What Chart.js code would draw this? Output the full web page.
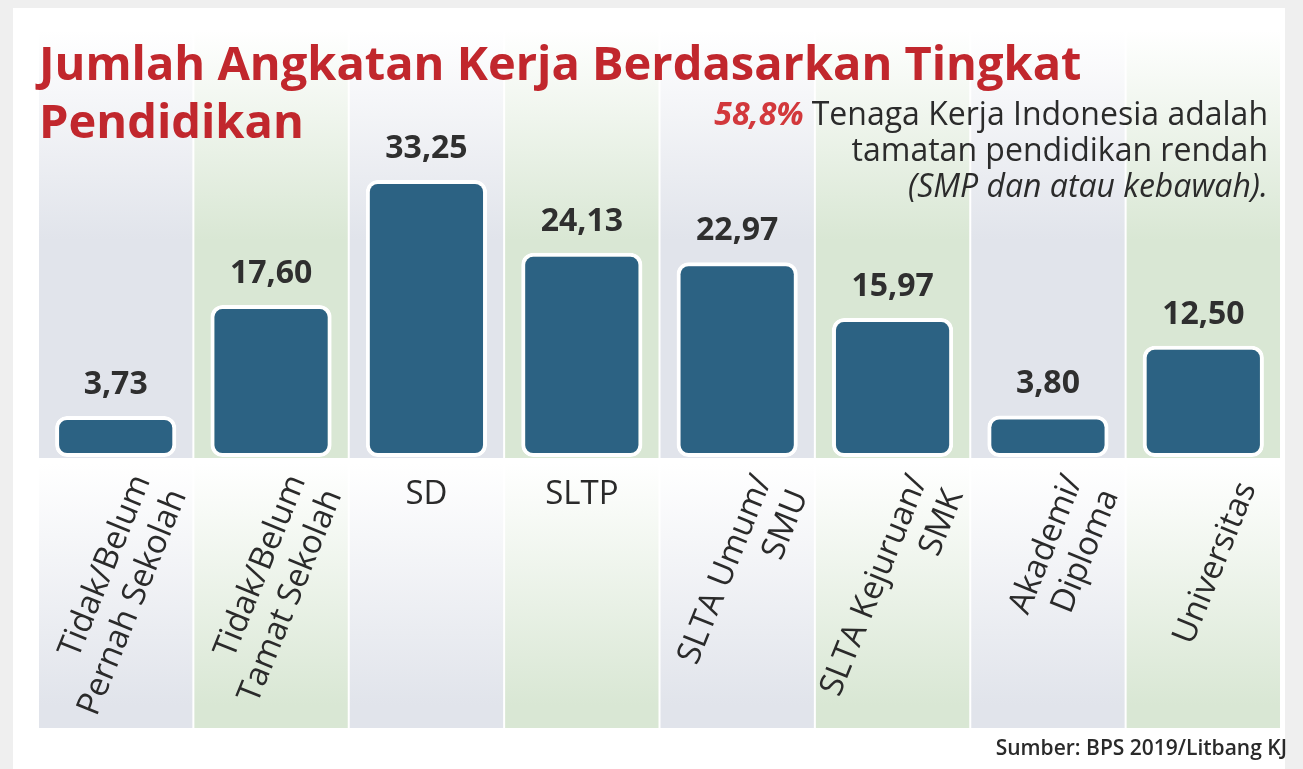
<!DOCTYPE html>
<html lang="id">
<head>
<meta charset="utf-8">
<title>Jumlah Angkatan Kerja Berdasarkan Tingkat Pendidikan</title>
<script src="https://cdn.jsdelivr.net/npm/chart.js@4.4.1/dist/chart.umd.min.js"></script>
<style>
  html, body { margin: 0; padding: 0; background: #efefef; }
  #wrap { width: 1303px; height: 769px; }
</style>
</head>
<body>
<div id="wrap"><canvas id="grafik" width="1303" height="769"></canvas></div>
<script>
// data dari grafik (persen angkatan kerja)
const kategori = [
  ['Tidak/Belum', 'Pernah Sekolah'],
  ['Tidak/Belum', 'Tamat Sekolah'],
  ['SD'],
  ['SLTP'],
  ['SLTA Umum/', 'SMU'],
  ['SLTA Kejuruan/', 'SMK'],
  ['Akademi/', 'Diploma'],
  ['Universitas'],
];
const persentase = [3.73, 17.60, 33.25, 24.13, 22.97, 15.97, 3.80, 12.50];

const judul = ['Jumlah Angkatan Kerja Berdasarkan Tingkat', 'Pendidikan'];
const sorotan = '58,8%';
const catatan = ['Tenaga Kerja Indonesia adalah', 'tamatan pendidikan rendah', '(SMP dan atau kebawah).'];
const sumber = 'Sumber: BPS 2019/Litbang KJ';

const warnaBatang = '#2c6283';
const warnaKolom = ['#e1e4eb', '#d9e7d4'];
const FONT = '"Open Sans", "Noto Sans", sans-serif';

function formatAngka(v) {
  return v.toFixed(2).replace('.', ',');
}

function gradien(ctx, y0, y1, warna) {
  const g = ctx.createLinearGradient(0, y0, 0, y1);
  g.addColorStop(0, '#ffffff');
  g.addColorStop(1, warna);
  return g;
}

const latarKolom = {
  id: 'latarKolom',
  beforeDraw(chart) {
    const { ctx, chartArea, scales: { x } } = chart;
    ctx.save();
    ctx.fillStyle = '#efefef';
    ctx.fillRect(0, 0, chart.width, chart.height);
    ctx.fillStyle = '#ffffff';
    ctx.fillRect(13, 8, 1272, chart.height - 8);

    const lebar = (chartArea.right - chartArea.left) / kategori.length;
    kategori.forEach((_, i) => {
      const cx = x.getPixelForValue(i);
      const kiri = cx - lebar / 2 + 1;
      const w = lebar - 2;
      ctx.fillStyle = gradien(ctx, 30, 240, warnaKolom[i % 2]);
      ctx.fillRect(kiri, 30, w, chartArea.bottom + 1 - 30);
      ctx.fillStyle = gradien(ctx, 463, 705, warnaKolom[i % 2]);
      ctx.fillRect(kiri, 463, w, 728 - 463);
    });
    ctx.restore();
  },
};

const teks = {
  id: 'teks',
  afterDatasetsDraw(chart) {
    const { ctx, scales: { x } } = chart;
    const meta = chart.getDatasetMeta(0);
    ctx.save();

    // judul
    ctx.fillStyle = '#c1272d';
    ctx.font = `bold 47px ${FONT}`;
    ctx.textAlign = 'left';
    ctx.textBaseline = 'alphabetic';
    ctx.fillText(judul[0], 39, 80);
    ctx.fillText(judul[1], 39, 138);

    // catatan kanan atas
    ctx.textAlign = 'right';
    ctx.fillStyle = '#2b2b2b';
    ctx.font = `32px ${FONT}`;
    ctx.fillText(catatan[0], 1268, 125);
    const w0 = ctx.measureText(catatan[0]).width;
    ctx.fillText(catatan[1], 1268, 161);
    ctx.font = `italic 32px ${FONT}`;
    ctx.fillText(catatan[2], 1268, 197);
    ctx.fillStyle = '#d2383c';
    ctx.font = `italic bold 32px ${FONT}`;
    ctx.fillText(sorotan, 1268 - w0 - 8, 125);

    // nilai di atas batang
    ctx.fillStyle = '#2f2f2f';
    ctx.font = `bold 32px ${FONT}`;
    ctx.textAlign = 'center';
    meta.data.forEach((bar, i) => {
      ctx.fillText(formatAngka(persentase[i]), bar.x, bar.y - 22);
    });

    // label kategori
    ctx.font = `33px ${FONT}`;
    ctx.fillStyle = '#2a2a2a';
    kategori.forEach((baris, i) => {
      const cx = x.getPixelForValue(i);
      if (baris.length === 1 && baris[0].length <= 4) {
        ctx.textAlign = 'center';
        ctx.textBaseline = 'alphabetic';
        ctx.fillText(baris[0], cx, 504);
      } else {
        ctx.save();
        ctx.translate(cx + 44, 484);
        ctx.rotate(-68 * Math.PI / 180);
        ctx.textAlign = 'right';
        ctx.textBaseline = 'middle';
        baris.forEach((t, k) => {
          ctx.fillText(t, 0, (k - (baris.length - 1) / 2) * 39);
        });
        ctx.restore();
      }
    });

    // sumber
    ctx.textBaseline = 'alphabetic';
    ctx.font = `600 21px ${FONT}`;
    const ws = ctx.measureText(sumber).width;
    const skala = Math.min(1, 329 / ws);
    ctx.save();
    ctx.translate(1287, 755);
    ctx.scale(skala, 1);
    ctx.textAlign = 'right';
    ctx.fillStyle = '#2a2a2a';
    ctx.fillText(sumber, 0, 0);
    ctx.restore();

    ctx.restore();
  },
};

new Chart(document.getElementById('grafik'), {
  type: 'bar',
  data: {
    labels: kategori,
    datasets: [
      {
        label: 'Angkatan kerja (%)',
        data: persentase,
        backgroundColor: warnaBatang,
        borderColor: '#ffffff',
        borderWidth: 4,
        borderRadius: 12,
        borderSkipped: false,
        base: -1.4,
        barPercentage: 0.78,
        categoryPercentage: 1,
      },
    ],
  },
  options: {
    responsive: false,
    animation: false,
    devicePixelRatio: 1,
    layout: {
      padding: { top: 46, bottom: 312, left: 38, right: 22 },
    },
    plugins: {
      legend: { display: false },
      title: { display: false },
      tooltip: { enabled: false },
    },
    scales: {
      x: { display: false, offset: true, grid: { display: false } },
      y: { display: false, min: -1.4, max: 50 },
    },
  },
  plugins: [latarKolom, teks],
});
</script>
</body>
</html>
